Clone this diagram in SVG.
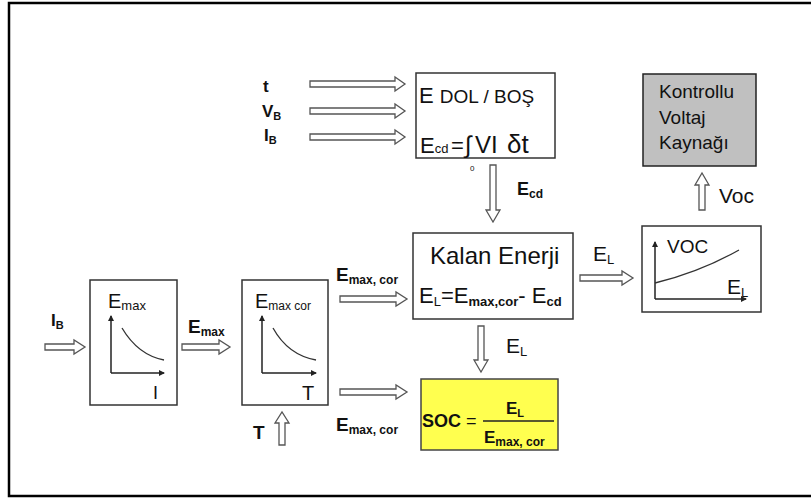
<svg xmlns="http://www.w3.org/2000/svg" width="811" height="499" viewBox="0 0 811 499">
<style>
.box{fill:#fff;stroke:#333;stroke-width:1.5}
.t{font-family:"Liberation Sans",Arial,sans-serif;fill:#111}
.b{font-weight:bold}
.arr{fill:#fff;stroke:#555;stroke-width:1.3;stroke-linejoin:miter}
.ax{stroke:#222;stroke-width:1.5;fill:none}
.cv{stroke:#333;stroke-width:1.3;fill:none}
</style>
<defs>
<marker id="ah" markerWidth="6" markerHeight="6" refX="5" refY="3" orient="auto" markerUnits="userSpaceOnUse">
<path d="M0,0 L6,3 L0,6 z" fill="#222"/>
</marker>
</defs>
<rect x="0" y="0" width="811" height="499" fill="#fff"/>
<rect x="9" y="3" width="810" height="493" fill="none" stroke="#000" stroke-width="2.5"/>

<g id="connectors">
<path class="arr" d="M310,81 H395 V77 L405,84 L395,91 V87 H310 Z"/>
<path class="arr" d="M310,108 H395 V104 L405,111 L395,118 V114 H310 Z"/>
<path class="arr" d="M310,134 H395 V130 L405,137 L395,144 V140 H310 Z"/>
<path class="arr" d="M490,165 V210 H486 L493,222 L500,210 H496 V165 Z"/>
<path class="arr" d="M699,210 V185 H695 L702,173 L709,185 H705 V210 Z"/>
<path class="arr" d="M580,275 H622 V271 L633,278 L622,285 V281 H580 Z"/>
<path class="arr" d="M478,326 V360 H474 L481,372 L488,360 H484 V326 Z"/>
<path class="arr" d="M45,344 H74 V340 L85,347 L74,354 V350 H45 Z"/>
<path class="arr" d="M182,344 H219 V340 L230,347 L219,354 V350 H182 Z"/>
<path class="arr" d="M340,296 H396 V292 L407,299 L396,306 V302 H340 Z"/>
<path class="arr" d="M340,389 H396 V385 L407,392 L396,399 V395 H340 Z"/>
<path class="arr" d="M279,445 V423 H275 L282,412 L289,423 H285 V445 Z"/>
</g>

<g id="inputs">
<text class="t b" x="263" y="92" font-size="17">t</text>
<text class="t b" x="262" y="117" font-size="17">V<tspan font-size="11" dy="3">B</tspan></text>
<text class="t b" x="264" y="141" font-size="17">I<tspan font-size="11" dy="3">B</tspan></text>
</g>

<g id="edol">
<rect class="box" x="416" y="73" width="139" height="85"/>
<text class="t" x="419" y="103" font-size="22">E <tspan font-size="19">DOL / BOŞ</tspan></text>
<text class="t" x="420" y="153" font-size="22">E<tspan font-size="13">cd</tspan><tspan x="451" font-size="22">=</tspan><tspan x="465" font-size="24">∫</tspan><tspan x="475" font-size="24">VI</tspan><tspan x="507" font-size="26">δt</tspan></text>
<text class="t" x="470" y="171" font-size="8">0</text>
</g>

<g id="ecd-label">
<text class="t b" x="517" y="195" font-size="18">E<tspan font-size="12" dy="3">cd</tspan></text>
</g>

<g id="kontrollu">
<rect x="643" y="74" width="113" height="92" fill="#c0c0c0" stroke="#222" stroke-width="1.5"/>
<text class="t" x="659" y="98" font-size="19">Kontrollu</text>
<text class="t" x="659" y="124" font-size="19">Voltaj</text>
<text class="t" x="659" y="149" font-size="19">Kaynağı</text>
</g>
<text class="t" x="719" y="203" font-size="21">Voc</text>

<g id="kalan">
<rect class="box" x="413" y="233" width="160" height="86"/>
<text class="t" x="430" y="264" font-size="24">Kalan Enerji</text>
<text class="t" x="419" y="303" font-size="22">E<tspan font-size="13" dy="3">L</tspan><tspan dy="-3">=E</tspan><tspan font-size="13" dy="3" font-weight="bold">max,cor</tspan><tspan dy="-3">- E</tspan><tspan font-size="13" dy="3" font-weight="bold">cd</tspan></text>
</g>
<text class="t" x="593" y="261" font-size="21">E<tspan font-size="13" dy="3">L</tspan></text>

<g id="voc">
<rect class="box" x="642" y="226" width="119" height="86"/>
<path class="ax" d="M655,299 V242" marker-end="url(#ah)"/>
<path class="ax" d="M655,299 H746" marker-end="url(#ah)"/>
<path class="cv" d="M655,283 Q700,272 739,250"/>
<text class="t" x="667" y="253" font-size="19">VOC</text>
<text class="t" x="727" y="294" font-size="21">E<tspan font-size="13" dy="3">L</tspan></text>
</g>

<text class="t" x="506" y="353" font-size="21">E<tspan font-size="13" dy="3">L</tspan></text>

<g id="soc">
<rect x="421" y="379" width="137" height="71" fill="#ffff4f" stroke="#444" stroke-width="1.5"/>
<text class="t b" x="422" y="427" font-size="18">SOC <tspan font-weight="normal">=</tspan></text>
<line x1="483" y1="421" x2="554" y2="421" stroke="#222" stroke-width="1.3"/>
<text class="t b" x="506" y="414" font-size="17">E<tspan font-size="11" dy="3">L</tspan></text>
<text class="t b" x="484" y="443" font-size="17">E<tspan font-size="12" dy="3">max, cor</tspan></text>
</g>

<text class="t b" x="51" y="326" font-size="17">I<tspan font-size="11" dy="3">B</tspan></text>

<g id="emax">
<rect class="box" x="90" y="280" width="87" height="125"/>
<text class="t" x="108" y="308" font-size="20">E<tspan font-size="13" dy="2">max</tspan></text>
<path class="ax" d="M111,373 V316" marker-end="url(#ah)"/>
<path class="ax" d="M111,373 H164" marker-end="url(#ah)"/>
<path class="cv" d="M122,328 Q138,355 164,360"/>
<text class="t" x="153" y="399" font-size="18">I</text>
</g>
<text class="t b" x="188" y="333" font-size="19">E<tspan font-size="12" dy="3">max</tspan></text>

<g id="emaxcor">
<rect class="box" x="242" y="280" width="86" height="125"/>
<text class="t" x="255" y="308" font-size="20">E<tspan font-size="12" dy="2">max cor</tspan></text>
<path class="ax" d="M262,373 V316" marker-end="url(#ah)"/>
<path class="ax" d="M262,373 H316" marker-end="url(#ah)"/>
<path class="cv" d="M273,328 Q288,355 316,360"/>
<text class="t" x="302" y="400" font-size="20">T</text>
</g>

<text class="t b" x="336" y="281" font-size="19">E<tspan font-size="12" dy="3">max, cor</tspan></text>
<text class="t b" x="336" y="431" font-size="19">E<tspan font-size="12" dy="3">max, cor</tspan></text>
<text class="t b" x="253" y="439" font-size="19">T</text>
</svg>
